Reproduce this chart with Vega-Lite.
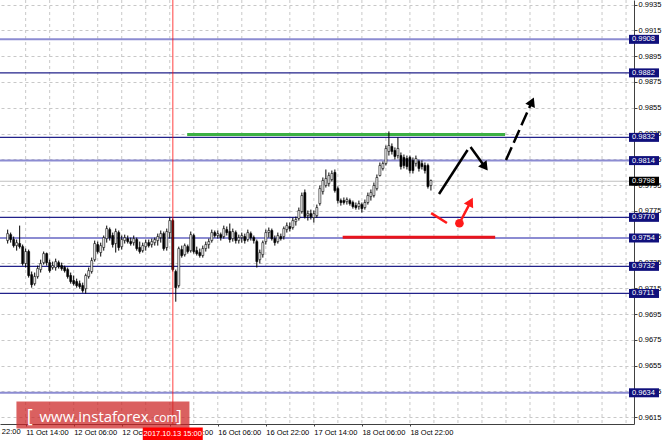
{
"$schema":"https://vega.github.io/schema/vega-lite/v6.json",
"width":634,"height":424,"autosize":"none",
"padding":{"left":0,"top":0,"right":30,"bottom":17},
"background":"white",
"config":{"view":{"stroke":null},"font":"Liberation Sans","text":{"font":"Liberation Sans"}},
"resolve":{"axis":{"x":"independent","y":"independent"}},
"datasets":{
"candles":[
{"t":-6,"o":0.9752,"h":0.97605,"l":0.97497,"c":0.97574},
{"t":-5,"o":0.97566,"h":0.97582,"l":0.97504,"c":0.97528},
{"t":-4,"o":0.97528,"h":0.97551,"l":0.97466,"c":0.97481},
{"t":-3,"o":0.97481,"h":0.97528,"l":0.97442,"c":0.97504},
{"t":-2,"o":0.97497,"h":0.97636,"l":0.97458,"c":0.97473},
{"t":-1,"o":0.97473,"h":0.97489,"l":0.97326,"c":0.97342},
{"t":0,"o":0.97342,"h":0.97458,"l":0.97311,"c":0.97435},
{"t":1,"o":0.97435,"h":0.9745,"l":0.97233,"c":0.97249},
{"t":2,"o":0.97256,"h":0.9728,"l":0.97155,"c":0.97178},
{"t":3,"o":0.97186,"h":0.97272,"l":0.97171,"c":0.97241},
{"t":4,"o":0.97241,"h":0.97326,"l":0.97225,"c":0.97303},
{"t":5,"o":0.97295,"h":0.97372,"l":0.97272,"c":0.97342},
{"t":6,"o":0.97349,"h":0.97435,"l":0.97334,"c":0.97419},
{"t":7,"o":0.97419,"h":0.97427,"l":0.97326,"c":0.97349},
{"t":8,"o":0.97349,"h":0.97372,"l":0.97272,"c":0.97287},
{"t":9,"o":0.97311,"h":0.97357,"l":0.97295,"c":0.97326},
{"t":10,"o":0.97311,"h":0.9738,"l":0.97287,"c":0.97357},
{"t":11,"o":0.97349,"h":0.97365,"l":0.97303,"c":0.97318},
{"t":12,"o":0.97326,"h":0.97349,"l":0.97287,"c":0.97303},
{"t":13,"o":0.97311,"h":0.97326,"l":0.97272,"c":0.97287},
{"t":14,"o":0.97295,"h":0.97311,"l":0.97225,"c":0.97241},
{"t":15,"o":0.97249,"h":0.97272,"l":0.97186,"c":0.97202},
{"t":16,"o":0.9721,"h":0.97249,"l":0.97171,"c":0.97186},
{"t":17,"o":0.97202,"h":0.97225,"l":0.97155,"c":0.97171},
{"t":18,"o":0.97186,"h":0.9721,"l":0.97147,"c":0.97163},
{"t":19,"o":0.97171,"h":0.97194,"l":0.97116,"c":0.97132},
{"t":20,"o":0.97147,"h":0.97264,"l":0.97109,"c":0.97249},
{"t":21,"o":0.97241,"h":0.97311,"l":0.97225,"c":0.97287},
{"t":22,"o":0.9728,"h":0.97388,"l":0.97264,"c":0.97365},
{"t":23,"o":0.97372,"h":0.9752,"l":0.97357,"c":0.97497},
{"t":24,"o":0.97489,"h":0.97512,"l":0.97419,"c":0.97435},
{"t":25,"o":0.97427,"h":0.97504,"l":0.97396,"c":0.97481},
{"t":26,"o":0.97466,"h":0.97559,"l":0.97442,"c":0.97543},
{"t":27,"o":0.97535,"h":0.97636,"l":0.97504,"c":0.97613},
{"t":28,"o":0.97605,"h":0.97621,"l":0.9752,"c":0.97543},
{"t":29,"o":0.97559,"h":0.97582,"l":0.97466,"c":0.97489},
{"t":30,"o":0.97497,"h":0.97613,"l":0.97427,"c":0.9759},
{"t":31,"o":0.97582,"h":0.97598,"l":0.97442,"c":0.97466},
{"t":32,"o":0.97473,"h":0.97559,"l":0.9745,"c":0.97528},
{"t":33,"o":0.9752,"h":0.97566,"l":0.97497,"c":0.97543},
{"t":34,"o":0.97535,"h":0.97559,"l":0.97497,"c":0.97512},
{"t":35,"o":0.97512,"h":0.97543,"l":0.97481,"c":0.97497},
{"t":36,"o":0.97504,"h":0.97559,"l":0.97481,"c":0.97535},
{"t":37,"o":0.97528,"h":0.97543,"l":0.97442,"c":0.97458},
{"t":38,"o":0.97466,"h":0.97512,"l":0.97419,"c":0.97435},
{"t":39,"o":0.97442,"h":0.97504,"l":0.97427,"c":0.97481},
{"t":40,"o":0.97473,"h":0.97528,"l":0.97442,"c":0.97504},
{"t":41,"o":0.97504,"h":0.97528,"l":0.97466,"c":0.97481},
{"t":42,"o":0.97489,"h":0.97535,"l":0.97466,"c":0.97512},
{"t":43,"o":0.97504,"h":0.97543,"l":0.97481,"c":0.97528},
{"t":44,"o":0.9752,"h":0.97574,"l":0.97481,"c":0.97551},
{"t":45,"o":0.97543,"h":0.97598,"l":0.97504,"c":0.97574},
{"t":46,"o":0.97574,"h":0.9759,"l":0.97442,"c":0.97458},
{"t":47,"o":0.97466,"h":0.97613,"l":0.97442,"c":0.9759},
{"t":48,"o":0.97582,"h":0.97698,"l":0.97535,"c":0.97675},
{"t":49,"o":0.97675,"h":0.97691,"l":0.9728,"c":0.97295},
{"t":50,"o":0.9728,"h":0.97295,"l":0.97046,"c":0.97155},
{"t":51,"o":0.97171,"h":0.97473,"l":0.97155,"c":0.97458},
{"t":52,"o":0.9745,"h":0.97481,"l":0.97388,"c":0.97404},
{"t":53,"o":0.97411,"h":0.97497,"l":0.97396,"c":0.97481},
{"t":54,"o":0.97473,"h":0.97489,"l":0.97419,"c":0.97435},
{"t":55,"o":0.97442,"h":0.9759,"l":0.97427,"c":0.97566},
{"t":56,"o":0.97559,"h":0.97574,"l":0.97419,"c":0.97435},
{"t":57,"o":0.97442,"h":0.97473,"l":0.97404,"c":0.97419},
{"t":58,"o":0.97427,"h":0.97458,"l":0.97388,"c":0.97404},
{"t":59,"o":0.97404,"h":0.97481,"l":0.97388,"c":0.97458},
{"t":60,"o":0.97458,"h":0.97512,"l":0.97435,"c":0.97489},
{"t":61,"o":0.97489,"h":0.97535,"l":0.97458,"c":0.97512},
{"t":62,"o":0.9752,"h":0.97605,"l":0.97504,"c":0.97582},
{"t":63,"o":0.97582,"h":0.97598,"l":0.97543,"c":0.97559},
{"t":64,"o":0.97559,"h":0.97598,"l":0.97535,"c":0.97574},
{"t":65,"o":0.97566,"h":0.97582,"l":0.9752,"c":0.97543},
{"t":66,"o":0.97551,"h":0.97636,"l":0.97535,"c":0.97613},
{"t":67,"o":0.97605,"h":0.97629,"l":0.97559,"c":0.97582},
{"t":68,"o":0.9759,"h":0.97652,"l":0.97504,"c":0.97528},
{"t":69,"o":0.97535,"h":0.97613,"l":0.97512,"c":0.9759},
{"t":70,"o":0.97582,"h":0.97598,"l":0.97497,"c":0.9752},
{"t":71,"o":0.9752,"h":0.97566,"l":0.97497,"c":0.97543},
{"t":72,"o":0.97543,"h":0.97582,"l":0.97504,"c":0.97559},
{"t":73,"o":0.97551,"h":0.97574,"l":0.97497,"c":0.9752},
{"t":74,"o":0.97528,"h":0.97605,"l":0.97512,"c":0.97582},
{"t":75,"o":0.97574,"h":0.9759,"l":0.9752,"c":0.97543},
{"t":76,"o":0.97543,"h":0.97559,"l":0.97497,"c":0.9752},
{"t":77,"o":0.97512,"h":0.97528,"l":0.97311,"c":0.97357},
{"t":78,"o":0.97372,"h":0.9745,"l":0.97342,"c":0.97427},
{"t":79,"o":0.97411,"h":0.9752,"l":0.97388,"c":0.97504},
{"t":80,"o":0.97512,"h":0.97605,"l":0.97489,"c":0.97582},
{"t":81,"o":0.97582,"h":0.97621,"l":0.97543,"c":0.97598},
{"t":82,"o":0.97598,"h":0.97613,"l":0.9752,"c":0.97535},
{"t":83,"o":0.97535,"h":0.97559,"l":0.97481,"c":0.97504},
{"t":84,"o":0.97512,"h":0.97582,"l":0.97497,"c":0.97559},
{"t":85,"o":0.97551,"h":0.97574,"l":0.9752,"c":0.97535},
{"t":86,"o":0.97551,"h":0.97629,"l":0.97528,"c":0.97613},
{"t":87,"o":0.97605,"h":0.9766,"l":0.97582,"c":0.97636},
{"t":88,"o":0.97629,"h":0.9766,"l":0.9759,"c":0.97613},
{"t":89,"o":0.97621,"h":0.97698,"l":0.97605,"c":0.97675},
{"t":90,"o":0.97667,"h":0.97706,"l":0.97636,"c":0.97683},
{"t":91,"o":0.97691,"h":0.97776,"l":0.97675,"c":0.97753},
{"t":92,"o":0.97745,"h":0.97892,"l":0.97729,"c":0.97869},
{"t":93,"o":0.97892,"h":0.97916,"l":0.97691,"c":0.97706},
{"t":94,"o":0.97714,"h":0.97753,"l":0.97675,"c":0.97729},
{"t":95,"o":0.97729,"h":0.9776,"l":0.97683,"c":0.97706},
{"t":96,"o":0.97698,"h":0.97753,"l":0.9766,"c":0.97729},
{"t":97,"o":0.97714,"h":0.97799,"l":0.97698,"c":0.97776},
{"t":98,"o":0.97807,"h":0.97947,"l":0.97791,"c":0.97923},
{"t":99,"o":0.979,"h":0.98009,"l":0.97877,"c":0.97985},
{"t":100,"o":0.97947,"h":0.98071,"l":0.97931,"c":0.98001},
{"t":101,"o":0.97962,"h":0.98048,"l":0.97939,"c":0.98024},
{"t":102,"o":0.97993,"h":0.98063,"l":0.97978,"c":0.9804},
{"t":103,"o":0.98048,"h":0.98071,"l":0.97892,"c":0.97908},
{"t":104,"o":0.97923,"h":0.97939,"l":0.97807,"c":0.9783},
{"t":105,"o":0.9783,"h":0.97846,"l":0.97791,"c":0.97815},
{"t":106,"o":0.9783,"h":0.97854,"l":0.97799,"c":0.97815},
{"t":107,"o":0.97822,"h":0.97854,"l":0.97799,"c":0.97838},
{"t":108,"o":0.9783,"h":0.97846,"l":0.97791,"c":0.97807},
{"t":109,"o":0.97815,"h":0.9783,"l":0.97768,"c":0.97784},
{"t":110,"o":0.97791,"h":0.97815,"l":0.9776,"c":0.97776},
{"t":111,"o":0.97784,"h":0.9783,"l":0.9776,"c":0.97807},
{"t":112,"o":0.97799,"h":0.97815,"l":0.97737,"c":0.97768},
{"t":113,"o":0.97776,"h":0.97838,"l":0.9776,"c":0.97815},
{"t":114,"o":0.97815,"h":0.97892,"l":0.97799,"c":0.97869},
{"t":115,"o":0.97861,"h":0.97916,"l":0.9783,"c":0.97892},
{"t":116,"o":0.97869,"h":0.9797,"l":0.97854,"c":0.97947},
{"t":117,"o":0.97923,"h":0.98032,"l":0.97908,"c":0.98009},
{"t":118,"o":0.98024,"h":0.98125,"l":0.98017,"c":0.98102},
{"t":119,"o":0.98079,"h":0.98133,"l":0.98063,"c":0.98117},
{"t":120,"o":0.98117,"h":0.98257,"l":0.98102,"c":0.98234},
{"t":121,"o":0.98211,"h":0.98366,"l":0.98179,"c":0.98257},
{"t":122,"o":0.98249,"h":0.98273,"l":0.98187,"c":0.98211},
{"t":123,"o":0.98218,"h":0.98242,"l":0.98148,"c":0.98172},
{"t":124,"o":0.98179,"h":0.98319,"l":0.98156,"c":0.98234},
{"t":125,"o":0.98179,"h":0.98203,"l":0.98071,"c":0.98094},
{"t":126,"o":0.98164,"h":0.98187,"l":0.98079,"c":0.98102},
{"t":127,"o":0.98156,"h":0.98179,"l":0.98071,"c":0.98094},
{"t":128,"o":0.98164,"h":0.98179,"l":0.9804,"c":0.98063},
{"t":129,"o":0.98141,"h":0.98164,"l":0.9804,"c":0.98063},
{"t":130,"o":0.98117,"h":0.98179,"l":0.98094,"c":0.98156},
{"t":131,"o":0.98133,"h":0.98148,"l":0.98055,"c":0.98079},
{"t":132,"o":0.98117,"h":0.98141,"l":0.98071,"c":0.98094},
{"t":133,"o":0.98102,"h":0.98125,"l":0.9804,"c":0.98063},
{"t":134,"o":0.98102,"h":0.98117,"l":0.97923,"c":0.97939},
{"t":135,"o":0.97947,"h":0.97993,"l":0.97908,"c":0.97985}
],
"vgrid":[{"t":0},{"t":8},{"t":16},{"t":24},{"t":32},{"t":40},{"t":48},{"t":56},{"t":64},{"t":72},{"t":80},{"t":88},{"t":96},{"t":104},{"t":112},{"t":120},{"t":128},{"t":136},{"t":144},{"t":152},{"t":160},{"t":168},{"t":176},{"t":184},{"t":192},{"t":200}],
"levD":[{"p":0.9882},{"p":0.9832},{"p":0.977},{"p":0.9732},{"p":0.9711}],
"levL":[{"p":0.9908},{"p":0.9814},{"p":0.9754},{"p":0.9634}],
"tags":[{"p":0.9908,"lab":"0.9908","bg":"n"},{"p":0.9882,"lab":"0.9882","bg":"n"},{"p":0.9832,"lab":"0.9832","bg":"n"},{"p":0.9814,"lab":"0.9814","bg":"n"},{"p":0.9798,"lab":"0.9798","bg":"b"},{"p":0.977,"lab":"0.9770","bg":"n"},{"p":0.9754,"lab":"0.9754","bg":"n"},{"p":0.9732,"lab":"0.9732","bg":"n"},{"p":0.9711,"lab":"0.9711","bg":"n"},{"p":0.9634,"lab":"0.9634","bg":"n"}],
"arrows":[{"t1":137.7,"p1":0.97881,"t2":147.21,"p2":0.98222,"g":"k"},{"t1":148.2,"p1":0.98245,"t2":153.02,"p2":0.98091,"g":"k"},{"t1":135.08,"p1":0.97733,"t2":140.33,"p2":0.97656,"g":"r"},{"t1":144.49,"p1":0.97654,"t2":148.23,"p2":0.9782,"g":"r"}],
"heads":[{"t":153.02,"p":0.98091,"a":143.5,"g":"k"},{"t":168.66,"p":0.98597,"a":24.3,"g":"k"},{"t":148.23,"p":0.9782,"a":28,"g":"r"}],
"wm":[{"t":0.33,"p":0.96113,"s":"[","fs":18},{"t":4.59,"p":0.96113,"s":"www.instaforex.","fs":15},{"t":42.6,"p":0.96113,"s":"com","fs":12},{"t":50.2,"p":0.96113,"s":"]","fs":17}]
},
"layer":[
{"data":{"name":"vgrid"},"mark":{"type":"rule","color":"#c8c8c8","strokeDash":[3,3],"strokeWidth":1},
 "encoding":{"x":{"field":"t","type":"quantitative","scale":{"domain":[-6.885,200.98],"nice":false,"zero":false},"axis":null}}},
{"data":{"name":"candles"},"mark":{"type":"bar","size":2,"stroke":"#000000","strokeWidth":0.6,"opacity":0},
 "encoding":{"x":{"field":"t","type":"quantitative","scale":{"domain":[-6.885,200.98],"nice":false,"zero":false},
   "axis":{"orient":"bottom","title":null,"values":[0,16,32,48,64,80,96,112,128],"labelExpr":"datum.value==0?'11 Oct 14:00':datum.value==16?'12 Oct 06:00':datum.value==32?'12 Oct 22:00':datum.value==48?'13 Oct 14:00':datum.value==64?'16 Oct 06:00':datum.value==80?'16 Oct 22:00':datum.value==96?'17 Oct 14:00':datum.value==112?'18 Oct 06:00':'18 Oct 22:00'","labelAlign":"left","labelFlush":false,"labelOverlap":false,"labelFont":"Liberation Sans","labelFontSize":7.5,"labelColor":"#000000","tickSize":2,"tickColor":"#404040","labelPadding":2,"domainColor":"#404040","grid":false}},
 "y":{"field":"o","type":"quantitative","scale":{"domain":[0.96098,0.99385],"nice":false,"zero":false},
   "axis":{"orient":"right","title":null,"values":[0.9615,0.9635,0.9655,0.9675,0.9695,0.9715,0.9735,0.9755,0.9775,0.9795,0.9815,0.9835,0.9855,0.9875,0.9895,0.9915,0.9935],"format":".4f","labelFont":"Liberation Sans","labelFontSize":7.5,"labelColor":"#000000","tickSize":3,"tickColor":"#404040","labelPadding":1,"domainColor":"#404040","labelOverlap":false,"labelFlush":false,"grid":true,"gridColor":"#c8c8c8","gridDash":[3,3]}},
 "y2":{"field":"c"}}},
{"data":{"name":"levL"},"mark":{"type":"rule","color":"#8c8cd2","strokeWidth":2},
 "encoding":{"y":{"field":"p","type":"quantitative","scale":{"domain":[0.96098,0.99385],"nice":false,"zero":false},"axis":null}}},
{"data":{"name":"levD"},"mark":{"type":"rule","color":"#22228a","strokeWidth":1.3},
 "encoding":{"y":{"field":"p","type":"quantitative","scale":{"domain":[0.96098,0.99385],"nice":false,"zero":false},"axis":null}}},
{"data":{"values":[{"p":0.9798}]},"mark":{"type":"rule","color":"#c0c0c0","strokeWidth":1},
 "encoding":{"y":{"field":"p","type":"quantitative","scale":{"domain":[0.96098,0.99385],"nice":false,"zero":false},"axis":null}}},
{"data":{"values":[{"t1":53.8,"t2":159.7,"p":0.98342}]},"mark":{"type":"rule","color":"#3cb043","strokeWidth":3},
 "encoding":{"x":{"field":"t1","type":"quantitative","scale":{"domain":[-6.885,200.98],"nice":false,"zero":false},"axis":null},"x2":{"field":"t2"},
 "y":{"field":"p","type":"quantitative","scale":{"domain":[0.96098,0.99385],"nice":false,"zero":false},"axis":null}}},
{"data":{"values":[{"t1":105.6,"t2":156.4,"p":0.97545}]},"mark":{"type":"rule","color":"#e8141c","strokeWidth":3},
 "encoding":{"x":{"field":"t1","type":"quantitative","scale":{"domain":[-6.885,200.98],"nice":false,"zero":false},"axis":null},"x2":{"field":"t2"},
 "y":{"field":"p","type":"quantitative","scale":{"domain":[0.96098,0.99385],"nice":false,"zero":false},"axis":null}}},
{"data":{"name":"candles"},"mark":{"type":"rule","color":"#000000","strokeWidth":1},
 "encoding":{"x":{"field":"t","type":"quantitative","scale":{"domain":[-6.885,200.98],"nice":false,"zero":false},"axis":null},
 "y":{"field":"l","type":"quantitative","scale":{"domain":[0.96098,0.99385],"nice":false,"zero":false},"axis":null},"y2":{"field":"h"}}},
{"data":{"name":"candles"},"mark":{"type":"bar","size":2,"stroke":"#000000","strokeWidth":0.6},
 "encoding":{"x":{"field":"t","type":"quantitative","scale":{"domain":[-6.885,200.98],"nice":false,"zero":false},"axis":null},
 "y":{"field":"o","type":"quantitative","scale":{"domain":[0.96098,0.99385],"nice":false,"zero":false},"axis":null},
 "y2":{"field":"c"},
 "fill":{"condition":{"test":"datum.c >= datum.o","value":"#ffffff"},"value":"#000000"}}},
{"data":{"values":[{"t":49}]},"mark":{"type":"rule","color":"#ff0000","opacity":0.5,"strokeWidth":1.5},
 "encoding":{"x":{"field":"t","type":"quantitative","scale":{"domain":[-6.885,200.98],"nice":false,"zero":false},"axis":null}}},
{"data":{"name":"arrows"},"transform":[{"filter":"datum.g=='k'"}],"mark":{"type":"rule","strokeWidth":2.5,"color":"#000000"},
 "encoding":{"x":{"field":"t1","type":"quantitative","scale":{"domain":[-6.885,200.98],"nice":false,"zero":false},"axis":null},"x2":{"field":"t2"},
 "y":{"field":"p1","type":"quantitative","scale":{"domain":[0.96098,0.99385],"nice":false,"zero":false},"axis":null},"y2":{"field":"p2"}}},
{"data":{"name":"arrows"},"transform":[{"filter":"datum.g=='r'"}],"mark":{"type":"rule","strokeWidth":2.5,"color":"#ff1a1a"},
 "encoding":{"x":{"field":"t1","type":"quantitative","scale":{"domain":[-6.885,200.98],"nice":false,"zero":false},"axis":null},"x2":{"field":"t2"},
 "y":{"field":"p1","type":"quantitative","scale":{"domain":[0.96098,0.99385],"nice":false,"zero":false},"axis":null},"y2":{"field":"p2"}}},
{"data":{"values":[{"t1":160.0,"p1":0.98144,"t2":168.66,"p2":0.98597}]},"mark":{"type":"rule","strokeWidth":2.5,"color":"#000000","strokeDash":[14,5]},
 "encoding":{"x":{"field":"t1","type":"quantitative","scale":{"domain":[-6.885,200.98],"nice":false,"zero":false},"axis":null},"x2":{"field":"t2"},
 "y":{"field":"p1","type":"quantitative","scale":{"domain":[0.96098,0.99385],"nice":false,"zero":false},"axis":null},"y2":{"field":"p2"}}},
{"data":{"name":"heads"},"transform":[{"filter":"datum.g=='k'"}],"mark":{"type":"point","shape":"triangle-up","filled":true,"size":110,"opacity":1,"color":"#000000"},
 "encoding":{"x":{"field":"t","type":"quantitative","scale":{"domain":[-6.885,200.98],"nice":false,"zero":false},"axis":null},
 "y":{"field":"p","type":"quantitative","scale":{"domain":[0.96098,0.99385],"nice":false,"zero":false},"axis":null},
 "angle":{"field":"a","type":"quantitative","scale":null}}},
{"data":{"name":"heads"},"transform":[{"filter":"datum.g=='r'"}],"mark":{"type":"point","shape":"triangle-up","filled":true,"size":110,"opacity":1,"color":"#ff1a1a"},
 "encoding":{"x":{"field":"t","type":"quantitative","scale":{"domain":[-6.885,200.98],"nice":false,"zero":false},"axis":null},
 "y":{"field":"p","type":"quantitative","scale":{"domain":[0.96098,0.99385],"nice":false,"zero":false},"axis":null},
 "angle":{"field":"a","type":"quantitative","scale":null}}},
{"data":{"values":[{"t":144.49,"p":0.97654}]},"mark":{"type":"point","shape":"circle","filled":true,"size":75,"color":"#ff1a1a","opacity":1},
 "encoding":{"x":{"field":"t","type":"quantitative","scale":{"domain":[-6.885,200.98],"nice":false,"zero":false},"axis":null},
 "y":{"field":"p","type":"quantitative","scale":{"domain":[0.96098,0.99385],"nice":false,"zero":false},"axis":null}}},
{"data":{"values":[{"t":25.74,"p":0.96167}]},"mark":{"type":"point","shape":"M-1,-0.156H1V0.156H-1Z","filled":true,"size":29929,"color":"#cc2222","opacity":0.72},
 "encoding":{"x":{"field":"t","type":"quantitative","scale":{"domain":[-6.885,200.98],"nice":false,"zero":false},"axis":null},
 "y":{"field":"p","type":"quantitative","scale":{"domain":[0.96098,0.99385],"nice":false,"zero":false},"axis":null}}},
{"data":{"name":"wm"},"mark":{"type":"text","align":"left","baseline":"alphabetic","color":"#ffffff","font":"Open Sans"},
 "encoding":{"x":{"field":"t","type":"quantitative","scale":{"domain":[-6.885,200.98],"nice":false,"zero":false},"axis":null},
 "y":{"field":"p","type":"quantitative","scale":{"domain":[0.96098,0.99385],"nice":false,"zero":false},"axis":null},
 "text":{"field":"s"},"size":{"field":"fs","type":"quantitative","scale":null}}},
{"data":{"name":"tags"},"transform":[{"filter":"datum.bg=='n'"}],"mark":{"type":"point","shape":"M0,-0.3H2V0.3H0Z","filled":true,"size":900,"opacity":1,"color":"#10107c"},
 "encoding":{"x":{"datum":200.98,"type":"quantitative","scale":{"domain":[-6.885,200.98],"nice":false,"zero":false},"axis":null},
 "y":{"field":"p","type":"quantitative","scale":{"domain":[0.96098,0.99385],"nice":false,"zero":false},"axis":null}}},
{"data":{"name":"tags"},"transform":[{"filter":"datum.bg=='b'"}],"mark":{"type":"point","shape":"M0,-0.3H2V0.3H0Z","filled":true,"size":900,"opacity":1,"color":"#000000"},
 "encoding":{"x":{"datum":200.98,"type":"quantitative","scale":{"domain":[-6.885,200.98],"nice":false,"zero":false},"axis":null},
 "y":{"field":"p","type":"quantitative","scale":{"domain":[0.96098,0.99385],"nice":false,"zero":false},"axis":null}}},
{"data":{"name":"tags"},"mark":{"type":"text","align":"left","baseline":"middle","dx":3,"color":"#ffffff","fontSize":7.5,"font":"Liberation Sans"},
 "encoding":{"x":{"datum":200.98,"type":"quantitative","scale":{"domain":[-6.885,200.98],"nice":false,"zero":false},"axis":null},
 "y":{"field":"p","type":"quantitative","scale":{"domain":[0.96098,0.99385],"nice":false,"zero":false},"axis":null},
 "text":{"field":"lab"}}},
{"data":{"values":[{"t":49,"p":0.96098}]},"mark":{"type":"point","shape":"M-2,0.24H2V1.07H-2Z","filled":true,"size":900,"color":"#ff0000","opacity":1},
 "encoding":{"x":{"field":"t","type":"quantitative","scale":{"domain":[-6.885,200.98],"nice":false,"zero":false},"axis":null},
 "y":{"field":"p","type":"quantitative","scale":{"domain":[0.96098,0.99385],"nice":false,"zero":false},"axis":null}}},
{"data":{"values":[{"t":49,"p":0.96098,"s":"2017.10.13 15:00"}]},"mark":{"type":"text","align":"center","baseline":"middle","dy":10,"color":"#ffffff","fontSize":7.5,"font":"Liberation Sans"},
 "encoding":{"x":{"field":"t","type":"quantitative","scale":{"domain":[-6.885,200.98],"nice":false,"zero":false},"axis":null},
 "y":{"field":"p","type":"quantitative","scale":{"domain":[0.96098,0.99385],"nice":false,"zero":false},"axis":null},"text":{"field":"s"}}},
{"data":{"values":[{"t":-16,"p":0.96098,"s":"10 Oct 22:00"}]},"mark":{"type":"text","align":"left","baseline":"top","dy":4,"color":"#000000","fontSize":7.5,"font":"Liberation Sans"},
 "encoding":{"x":{"field":"t","type":"quantitative","scale":{"domain":[-6.885,200.98],"nice":false,"zero":false},"axis":null},
 "y":{"field":"p","type":"quantitative","scale":{"domain":[0.96098,0.99385],"nice":false,"zero":false},"axis":null},"text":{"field":"s"}}}
]
}
